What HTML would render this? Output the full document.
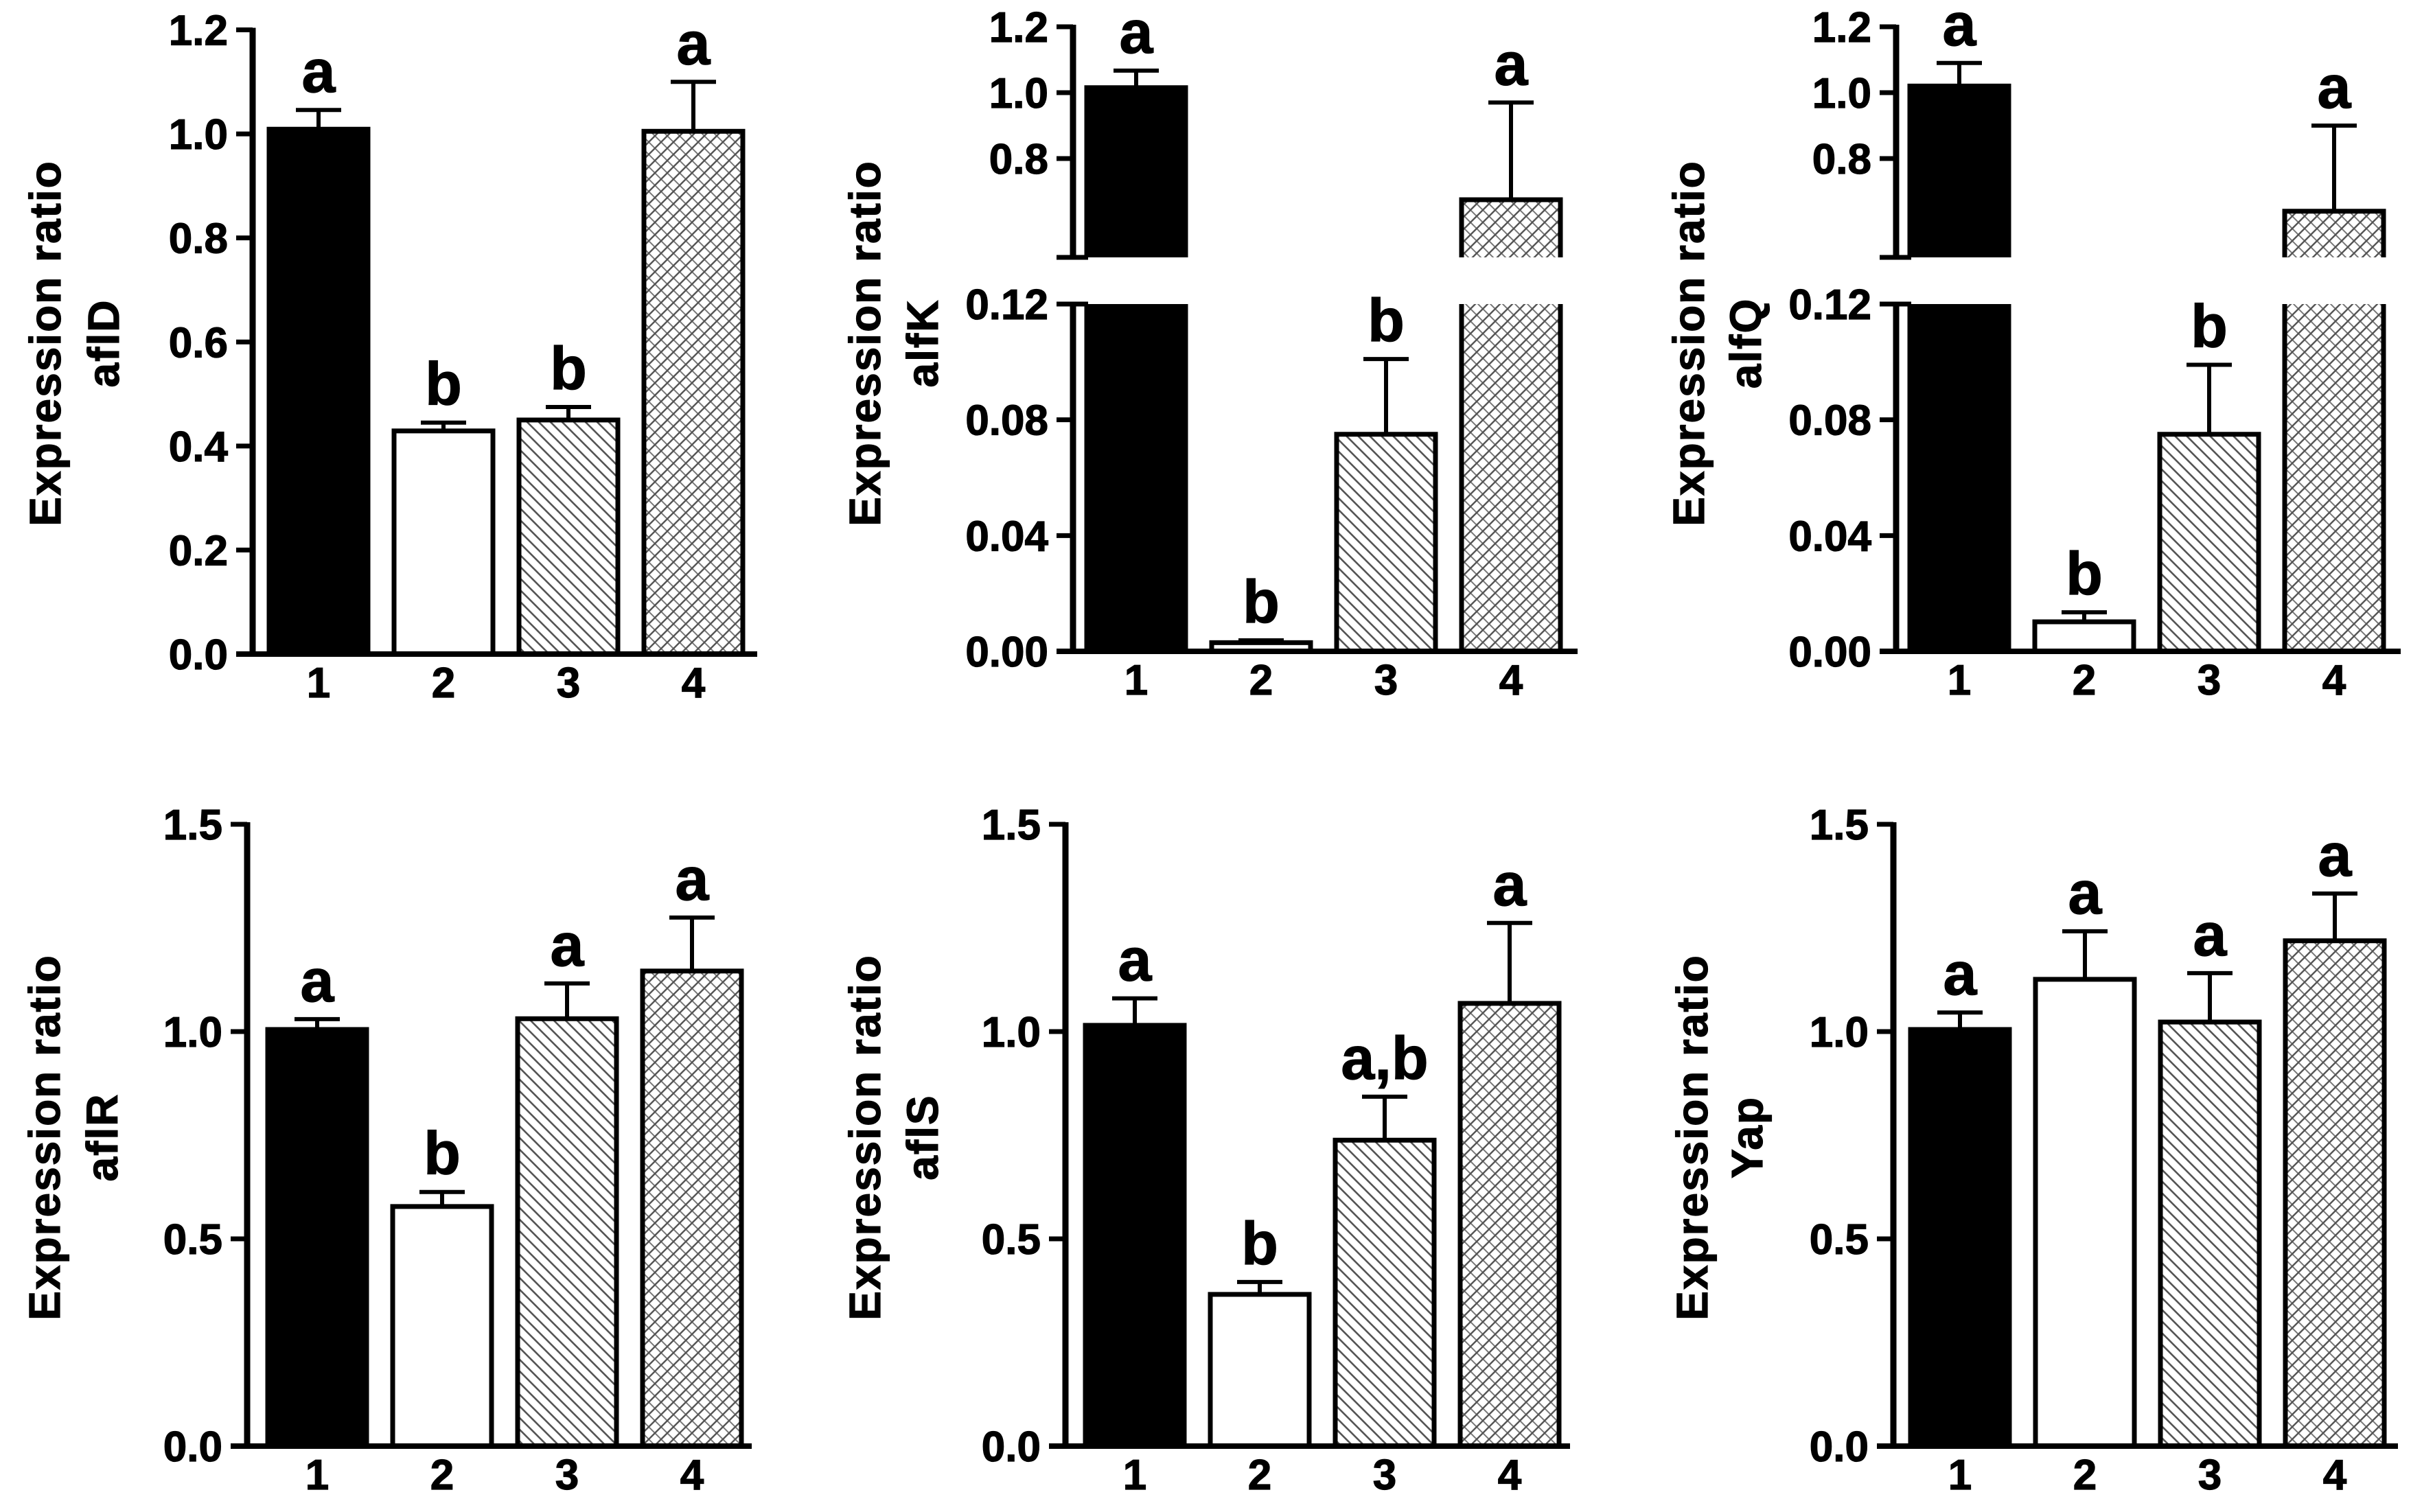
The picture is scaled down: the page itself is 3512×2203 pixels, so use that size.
<!DOCTYPE html>
<html><head><meta charset="utf-8"><title>Expression ratio bar charts</title>
<style>
html,body{margin:0;padding:0;background:#fff;}
svg{display:block;}
text{font-family:"Liberation Sans",Arial,sans-serif;font-weight:bold;fill:#000;stroke:#000;stroke-width:1.2px;}
</style></head>
<body>
<svg id="fig" xmlns="http://www.w3.org/2000/svg" width="3512" height="2203" viewBox="0 0 3512 2203">
<defs>
<pattern id="diag" patternUnits="userSpaceOnUse" width="17" height="17">
<path d="M-4,-4 L21,21 M-4,13 L4,21 M13,-4 L21,4" stroke="#555" stroke-width="2.6" fill="none"/>
</pattern>
<pattern id="cross" patternUnits="userSpaceOnUse" width="18" height="18">
<path d="M-4,-4 L22,22 M-4,14 L4,22 M14,-4 L22,4" stroke="#777" stroke-width="2" fill="none"/>
<path d="M-4,22 L22,-4 M-4,4 L4,-4 M14,22 L22,14" stroke="#555" stroke-width="2.4" fill="none"/>
</pattern>
</defs>
</svg>
<script>
// ---- data ----
const categories = ['1','2','3','4'];
const afIDMean = [1.009, 0.429, 0.45, 1.005];
const afIDErr  = [0.037, 0.016, 0.025, 0.095];
const afIDSig  = ['a','b','b','a'];
const alfKMean = [1.015, 0.003, 0.075, 0.675];
const alfKErr  = [0.052, 0.0008, 0.026, 0.295];
const alfKSig  = ['a','b','b','a'];
const alfQMean = [1.02, 0.0102, 0.075, 0.64];
const alfQErr  = [0.07, 0.0033, 0.024, 0.26];
const alfQSig  = ['a','b','b','a'];
const afIRMean = [1.005, 0.578, 1.031, 1.146];
const afIRErr  = [0.025, 0.035, 0.085, 0.129];
const afIRSig  = ['a','b','a','a'];
const afISMean = [1.015, 0.366, 0.738, 1.068];
const afISErr  = [0.065, 0.03, 0.105, 0.194];
const afISSig  = ['a','b','a,b','a'];
const yapMean  = [1.005, 1.126, 1.023, 1.219];
const yapErr   = [0.041, 0.116, 0.118, 0.114];
const yapSig   = ['a','a','a','a'];
const ticksTop = [0, 0.2, 0.4, 0.6, 0.8, 1.0, 1.2];
const ticksLow = [0, 0.04, 0.08, 0.12];
const ticksUp  = [0.8, 1.0, 1.2];
const ticksBottom = [0, 0.5, 1.0, 1.5];

const NS = 'http://www.w3.org/2000/svg';
const svg = document.getElementById('fig');
function mk(tag, attrs, parent){
  const e = document.createElementNS(NS, tag);
  for (const k in attrs) e.setAttribute(k, attrs[k]);
  (parent||svg).appendChild(e);
  return e;
}
const fills = ['#000','#fff','url(#diag)','url(#cross)'];
const BW = 144, PITCH = 182;

function drawPanel(p){
  const g = mk('g', {});
  
  
  const ax = p.axisX;
  const y = p.yScale;
  const t1 = mk('text', {x:0,y:0,'font-size':64,'text-anchor':'middle','dominant-baseline':'central','letter-spacing':'2',transform:`translate(${p.titleX1},${p.titleY}) rotate(-90)`}, g);
  t1.textContent = 'Expression ratio';
  
  
  const t2 = mk('text', {x:0,y:0,'font-size':64,'text-anchor':'middle','dominant-baseline':'central','letter-spacing':'2',transform:`translate(${p.titleX2},${p.titleY}) rotate(-90)`}, g);
  t2.textContent = p.gene;
  
  
  for (let i = 0; i < 4; i++){
    const cx = ax + p.off + i*PITCH;
    const x0 = cx - BW/2;
    const m = p.mean[i], e = p.err[i];
    const bg = mk('g', {}, g);
    
    
    if (p.broken && m > p.lowMax){
      const yl0 = p.y0, yl1 = y(p.lowMax);
      mk('rect', {x:x0, y:yl1, width:BW, height:yl0-yl1, fill:fills[i]}, bg);
      mk('path', {d:`M${x0},${yl1} L${x0},${yl0} M${x0+BW},${yl1} L${x0+BW},${yl0}`, stroke:'#000','stroke-width':7, fill:'none'}, bg);
      const yu0 = p.upBottomY, yu1 = y(m);
      mk('rect', {x:x0, y:yu1, width:BW, height:yu0-yu1, fill:fills[i]}, bg);
      mk('path', {d:`M${x0},${yu0} L${x0},${yu1} L${x0+BW},${yu1} L${x0+BW},${yu0}`, stroke:'#000','stroke-width':7, fill:'none'}, bg);
    } else {
      const yt = y(m);
      mk('rect', {x:x0, y:yt, width:BW, height:p.y0-yt, fill:fills[i], stroke:'#000','stroke-width':7}, bg);
    }
    const ye = y(m + e), yb = y(m);
    const eb = mk('path', {d:`M${cx},${yb} L${cx},${ye} M${cx-33},${ye} L${cx+33},${ye}`, stroke:'#000','stroke-width':6, fill:'none'}, g);
    
    
    const sl = mk('text', {x:cx, y:ye-26, 'font-size':88, 'text-anchor':'middle'}, g);
    sl.textContent = p.sig[i];
    
    
    const xl = mk('text', {x:cx, y:p.y0+63, 'font-size':62, 'text-anchor':'middle'}, g);
    xl.textContent = categories[i];
    
    
  }
  const xa = mk('line', {x1:ax-24, y1:p.y0, x2:ax+735, y2:p.y0, stroke:'#000','stroke-width':8}, g);
  
  
  function tickSet(ticks, dec){
    for (const v of ticks){
      const ty = y(v);
      mk('line', {x1:ax-24, y1:ty, x2:ax, y2:ty, stroke:'#000','stroke-width':7}, g);
      const tl = mk('text', {x:ax-36, y:ty+22, 'font-size':62, 'text-anchor':'end'}, g);
      tl.textContent = v.toFixed(dec);
      
      
    }
  }
  if (p.broken){
    const ya = mk('path', {d:`M${ax},${p.y0+4} L${ax},${y(p.lowMax)} M${ax},${p.upBottomY} L${ax},${y(1.2)-3}`, stroke:'#000','stroke-width':9, fill:'none'}, g);
    
    
    mk('line', {x1:ax-24, y1:y(p.lowMax), x2:ax+22, y2:y(p.lowMax), stroke:'#000','stroke-width':7}, g);
    mk('line', {x1:ax-24, y1:p.upBottomY, x2:ax+22, y2:p.upBottomY, stroke:'#000','stroke-width':7}, g);
    tickSet(ticksLow, 2);
    tickSet(ticksUp, 1);
  } else {
    const ya = mk('line', {x1:ax, y1:p.y0+4, x2:ax, y2:y(p.ticks[p.ticks.length-1])-3, stroke:'#000','stroke-width':9}, g);
    
    
    tickSet(p.ticks, 1);
  }
}

function linScale(y0, vTop, yTop){ return v => y0 - v*(y0-yTop)/vTop; }
function brokenScale(y0, lowMax, lowTopY, upMin, upBottomY, upPerUnit){
  return v => v <= lowMax ? y0 - v*(y0-lowTopY)/lowMax : upBottomY - (v-upMin)*upPerUnit;
}

drawPanel({name:'afld', gene:'aflD', axisX:368, off:96, y0:953, yScale:linScale(953,1.2,43.5), ticks:ticksTop,
  mean:afIDMean, err:afIDErr, sig:afIDSig, titleX1:66, titleX2:151, titleY:500});
drawPanel({name:'alfk', gene:'alfK', axisX:1563, off:92, y0:949, broken:true, lowMax:0.12, upBottomY:375,
  yScale:brokenScale(949,0.12,443,0.5,375,480),
  mean:alfKMean, err:alfKErr, sig:alfKSig, titleX1:1260, titleX2:1344, titleY:500});
drawPanel({name:'alfq', gene:'alfQ', axisX:2762, off:92, y0:949, broken:true, lowMax:0.12, upBottomY:375,
  yScale:brokenScale(949,0.12,443,0.5,375,480),
  mean:alfQMean, err:alfQErr, sig:alfQSig, titleX1:2460, titleX2:2543, titleY:500});
drawPanel({name:'aflr', gene:'aflR', axisX:360, off:102, y0:2107, yScale:linScale(2107,1.5,1201), ticks:ticksBottom,
  mean:afIRMean, err:afIRErr, sig:afIRSig, titleX1:65, titleX2:149, titleY:1657});
drawPanel({name:'afls', gene:'aflS', axisX:1552, off:101, y0:2107, yScale:linScale(2107,1.5,1201), ticks:ticksBottom,
  mean:afISMean, err:afISErr, sig:afISSig, titleX1:1260, titleX2:1344, titleY:1657});
drawPanel({name:'yap', gene:'Yap', axisX:2758, off:97, y0:2107, yScale:linScale(2107,1.5,1201), ticks:ticksBottom,
  mean:yapMean, err:yapErr, sig:yapSig, titleX1:2465, titleX2:2545, titleY:1657});
</script>
</body></html>
